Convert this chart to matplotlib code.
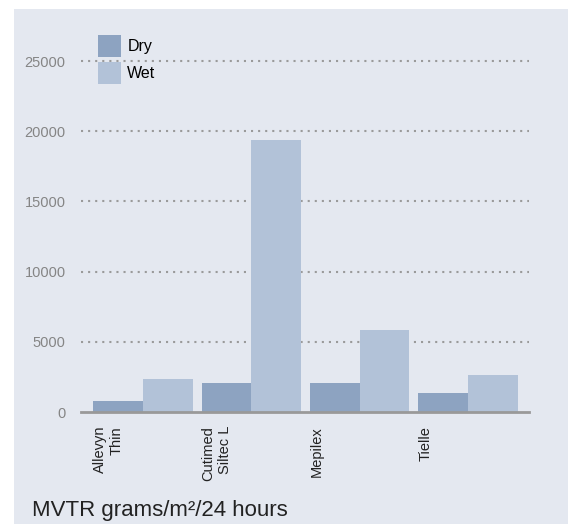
import matplotlib
matplotlib.use("Agg")
import matplotlib.pyplot as plt
from matplotlib.patches import Rectangle
import numpy as np

PANEL_BG = "#e4e8f0"
DRY_COLOR = "#8da3c1"
WET_COLOR = "#b2c2d8"
GRID_COLOR = "#9a9a9a"

products = ["Allevyn\nThin", "Cutimed\nSiltec L", "Mepilex", "Tielle"]
dry = [800, 2050, 2050, 1350]
wet = [2350, 19350, 5850, 2650]
y_ticks = [0, 5000, 10000, 15000, 20000, 25000]

plt.rcParams.update({
    "font.family": ["Liberation Sans", "DejaVu Sans"],
    "font.size": 10.5,
})

W, H = 568, 524
fig = plt.figure(figsize=(W / 100, H / 100), dpi=100, facecolor="white")

# light panel behind everything
fig.patches.append(Rectangle((14 / W, 0), 1 - 14 / W, (H - 9) / H,
                             transform=fig.transFigure, facecolor=PANEL_BG,
                             edgecolor="none", zorder=-10))

ax = fig.add_axes([81 / W, (H - 412) / H, (529 - 81) / W, (412 - 40) / H])
ax.set_facecolor("none")

x = np.arange(len(products))
width = 0.458
b1 = ax.bar(x - width / 2, dry, width, color=DRY_COLOR, label="Dry", zorder=3)
b2 = ax.bar(x + width / 2, wet, width, color=WET_COLOR, label="Wet", zorder=3)

ax.set_xlim(-0.572, 3.563)
ax.set_ylim(0, 26500)

ax.set_yticks(y_ticks)
ax.set_yticklabels([str(v) for v in y_ticks], color="#858585", fontsize=10.5)
ax.tick_params(axis="y", length=0, pad=11)

ax.set_xticks(x - width)
ax.set_xticklabels(products, rotation=90, ha="left", va="top",
                   multialignment="right", fontsize=10.5, color="#222222")
ax.tick_params(axis="x", length=0, pad=10)

for v in y_ticks[1:]:
    ax.axhline(v, color=GRID_COLOR, lw=1.5, ls=(0, (1, 2.4)), zorder=1)

for s in ["top", "right", "left"]:
    ax.spines[s].set_visible(False)
ax.spines["bottom"].set_color("#999999")
ax.spines["bottom"].set_linewidth(2)
ax.spines["bottom"].set_zorder(4)

fig.legend(handles=[b1, b2], loc="upper left",
           bbox_to_anchor=(98 / W, 1 - 35 / H), frameon=False,
           fontsize=11.5, handlelength=1.44, handleheight=1.75,
           handletextpad=0.4, labelspacing=0.3, borderpad=0, borderaxespad=0)

fig.text(32 / W, 1 - 516 / H, "MVTR grams/m²/24 hours", fontsize=16,
         color="#222222", ha="left", va="baseline")

fig.savefig("out.png", dpi=100, facecolor="white")
